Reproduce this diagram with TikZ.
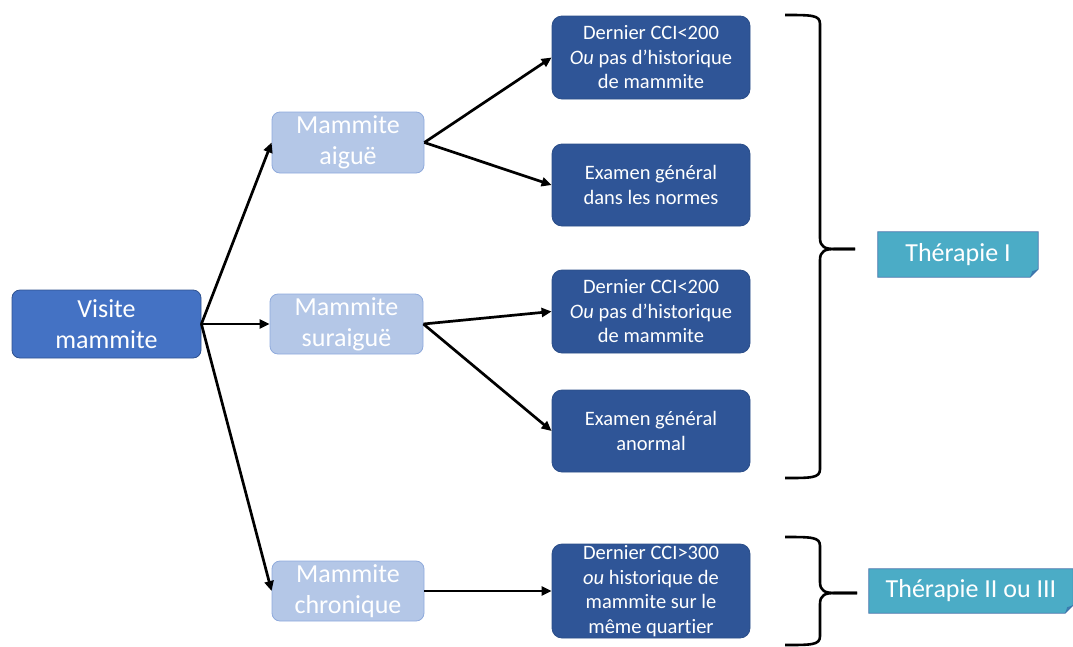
\documentclass[tikz,border=0pt]{standalone}
\usepackage{fontspec}
\setmainfont[Ligatures=NoCommon]{Carlito}
\usetikzlibrary{arrows.meta,calc}
\definecolor{visitblue}{HTML}{4472C4}
\definecolor{visitedge}{HTML}{2F528F}
\definecolor{lightbox}{HTML}{B4C7E7}
\definecolor{lightedge}{HTML}{8FAADC}
\definecolor{darkbox}{HTML}{2F5597}
\definecolor{darkedge}{HTML}{2A4D88}
\definecolor{therapy}{HTML}{4BACC6}
\definecolor{therapyedge}{HTML}{3E6EA8}
\definecolor{foldcol}{HTML}{3A7DB0}
\begin{document}
\begin{tikzpicture}[x=1pt,y=-1pt,
  rootbox/.style={draw=visitedge,line width=0.8pt,fill=visitblue,rounded corners=8pt,
    text=white,align=center,font=\fontsize{26}{31}\selectfont,inner sep=0pt},
  typebox/.style={draw=lightedge,line width=0.8pt,fill=lightbox,rounded corners=8pt,
    text=white,align=center,font=\fontsize{26}{31}\selectfont,inner sep=0pt,
    minimum width=152pt,minimum height=61pt},
  critbox/.style={draw=darkedge,line width=0.8pt,fill=darkbox,rounded corners=10pt,
    text=white,align=center,font=\fontsize{20.5}{24.5}\selectfont,inner sep=0pt,
    minimum width=198pt},
  thbox/.style={fill=therapy,text=white,font=\fontsize{26}{28}\selectfont,inner sep=0pt},
  link/.style={line width=2.7pt,-{Triangle[length=10pt,width=9pt]}},
  brace/.style={line width=2.6pt,line join=round}
]
\useasboundingbox (0,0) rectangle (1073,646);

% root
\node[rootbox,minimum width=189pt,minimum height=68pt] (visite) at (106.5,324) {Visite\\mammite};

% mastitis types
\node[typebox] (aigue) at (348,142.5) {Mammite\\aiguë};
\node[typebox,minimum width=153pt,minimum height=60pt] (suraigue) at (346.5,324) {Mammite\\suraiguë};
\node[typebox,minimum height=60pt] (chronique) at (348,591) {Mammite\\chronique};

% criteria
\node[critbox,minimum height=83pt] (c1) at (651,57.5) {Dernier CCI<200\\\textit{Ou} pas d’historique\\de mammite};
\node[critbox,minimum height=82pt] (c2) at (651,185) {Examen général\\dans les normes};
\node[critbox,minimum height=83pt] (c3) at (651,311.5) {Dernier CCI<200\\\textit{Ou} pas d’historique\\de mammite};
\node[critbox,minimum height=82pt] (c4) at (651,431) {Examen général\\anormal};
\node[critbox,minimum height=94pt] (c5) at (651,591) {Dernier CCI>300\\\textit{ou} historique de\\mammite sur le\\même quartier};

% connectors
\draw[link] (visite.east) -- (aigue.west);
\draw[link] (visite.east) -- (suraigue.west);
\draw[link] (visite.east) -- (chronique.west);
\draw[link] (aigue.east) -- (c1.west);
\draw[link] (aigue.east) -- (c2.west);
\draw[link] (suraigue.east) -- (c3.west);
\draw[link] (suraigue.east) -- (c4.west);
\draw[link] (chronique.east) -- (c5.west);

% therapy labels with folded corner
\node[thbox,minimum width=160pt,minimum height=45pt] (t1) at (958,254.5) {Thérapie I};
\node[thbox,minimum width=204pt,minimum height=44pt] (t2) at (971,591) {Thérapie II ou III};
\foreach \t in {t1,t2}{
  \fill[white] ($(\t.south east)+(-8,0)$) -- (\t.south east) -- ($(\t.south east)+(0,-8)$) -- cycle;
  \fill[foldcol] ($(\t.south east)+(-8,0)$) -- ($(\t.south east)+(-6,-6)$) -- ($(\t.south east)+(0,-8)$) -- cycle;
  \draw[therapyedge,line width=0.8pt] (\t.north west) -- (\t.north east) -- ($(\t.south east)+(0,-8)$)
     -- ($(\t.south east)+(-8,0)$) -- (\t.south west) -- cycle;
}

% braces
\coordinate (b1top) at (785,15);
\coordinate (b1tip) at (855,249);
\coordinate (b1bot) at (785,478);
\draw[brace] (b1top) .. controls (812,15) and (820,15) .. (820,24)
  -- (820,238) .. controls (820,247) and (825,249) .. (835,249) -- (b1tip);
\draw[brace] (b1tip) -- (835,249) .. controls (825,249) and (820,251) .. (820,260)
  -- (820,469) .. controls (820,478) and (812,478) .. (b1bot);

\coordinate (b2top) at (785,537);
\coordinate (b2tip) at (857,593);
\coordinate (b2bot) at (785,645);
\draw[brace] (b2top) .. controls (812,537) and (820,537) .. (820,546)
  -- (820,582) .. controls (820,591) and (825,593) .. (835,593) -- (b2tip);
\draw[brace] (b2tip) -- (835,593) .. controls (825,593) and (820,595) .. (820,604)
  -- (820,636) .. controls (820,645) and (812,645) .. (b2bot);
\end{tikzpicture}
\end{document}
